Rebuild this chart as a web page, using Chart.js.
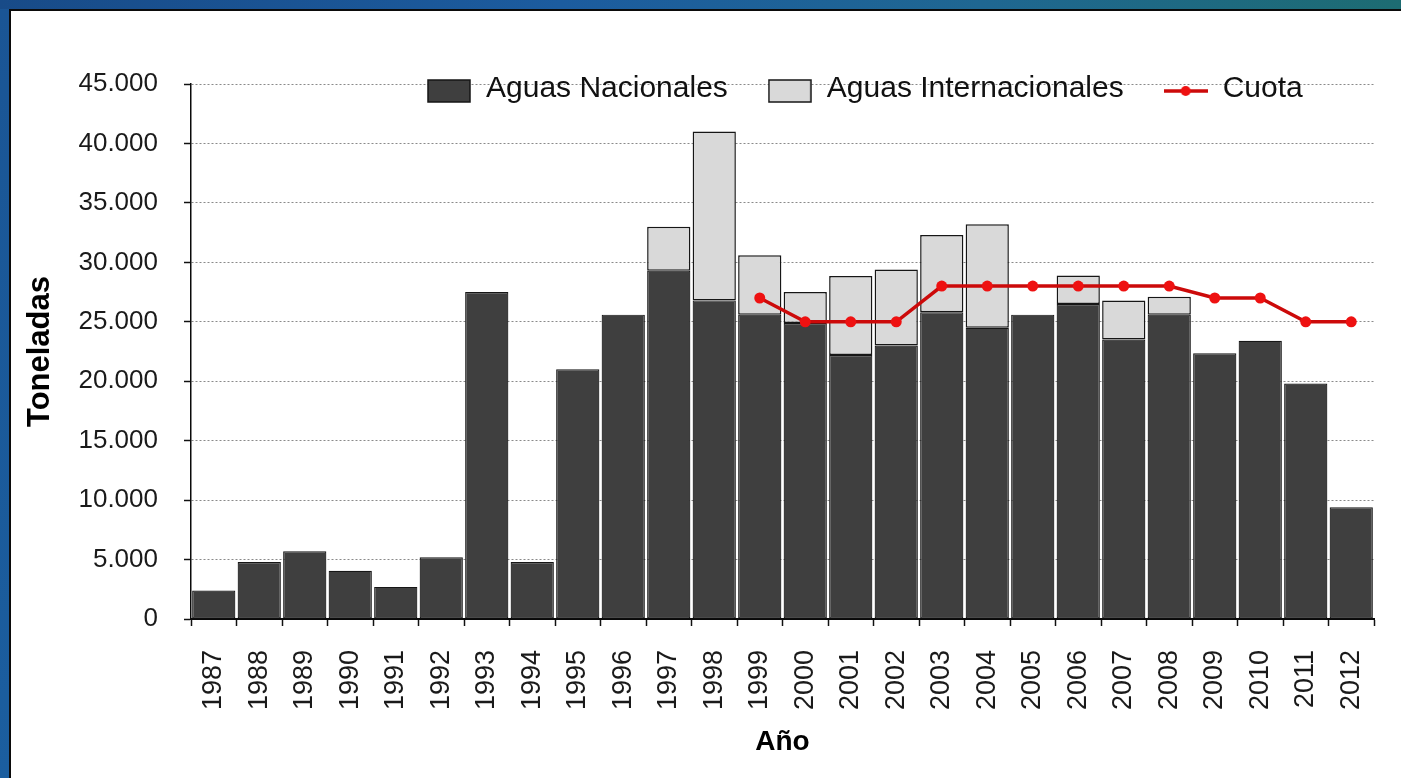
<!DOCTYPE html>
<html>
<head>
<meta charset="utf-8">
<script src="https://cdn.jsdelivr.net/npm/chart.js@4"></script>
<style>
  html, body { margin: 0; padding: 0; width: 1401px; height: 778px; overflow: hidden; }
  body {
    position: relative;
    background: linear-gradient(90deg, #184b88 0%, #1c5c9f 40%, #1f6792 70%, #1d6c72 100%);
  }
  #leftStrip {
    position: absolute; left: 0; top: 9px; width: 9px; bottom: 0;
    background: linear-gradient(180deg, #1a5595 0%, #1b5e9f 100%);
  }
  #panel {
    position: absolute; left: 9px; top: 9px; right: 0; bottom: 0;
    background: #ffffff;
    border-left: 2px solid #0b0b0b;
    border-top: 2px solid #0b0b0b;
  }
  canvas { position: absolute; left: 0; top: 0; }
</style>
</head>
<body>
<div id="leftStrip"></div>
<div id="panel"></div>
<canvas id="chart" width="1401" height="778"></canvas>
<script>
// Years on the horizontal axis
const years = ['1987','1988','1989','1990','1991','1992','1993','1994','1995','1996',
               '1997','1998','1999','2000','2001','2002','2003','2004','2005','2006',
               '2007','2008','2009','2010','2011','2012'];

// Catch in national waters (tonnes)
const aguasNacionales = [2400, 4800, 5700, 4050, 2700, 5200, 27500, 4800, 21000, 25600,
                         29300, 26800, 25600, 24900, 22200, 23000, 25800, 24500, 25600, 26500,
                         23500, 25600, 22350, 23400, 19800, 9400];

// Catch in international waters (tonnes), stacked on top
const aguasInternacionales = [0, 0, 0, 0, 0, 0, 0, 0, 0, 0,
                              3700, 14200, 5000, 2600, 6650, 6400, 6500, 8700, 0, 2400,
                              3300, 1500, 0, 0, 0, 0];

// Annual quota (tonnes)
const cuota = [null, null, null, null, null, null, null, null, null, null,
               null, null, 27000, 25000, 25000, 25000, 28000, 28000, 28000, 28000,
               28000, 28000, 27000, 27000, 25000, 25000];

// Vertical axis tick labels
const yTickLabels = ['0', '5.000', '10.000', '15.000', '20.000', '25.000',
                     '30.000', '35.000', '40.000', '45.000'];

const seriesNames = ['Aguas Nacionales', 'Aguas Internacionales', 'Cuota'];

const DARK = '#3f3f3f';
const LIGHT = '#d9d9d9';
const EDGE = '#161616';
const RED_LINE = '#cc0a0a';
const RED_DOT = '#ee1111';

Chart.defaults.font.family = '"Liberation Sans", Arial, sans-serif';
Chart.defaults.color = '#1a1a1a';

// Legend symbols: filled boxes for the bars, a line with a dot for the quota
function boxSymbol(fill) {
  const c = document.createElement('canvas');
  c.width = 44; c.height = 36;
  const g = c.getContext('2d');
  g.fillStyle = fill;
  g.fillRect(1, 9, 42, 22);
  g.strokeStyle = EDGE;
  g.lineWidth = 1.5;
  g.strokeRect(1, 9, 42, 22);
  return c;
}
function lineSymbol() {
  const c = document.createElement('canvas');
  c.width = 44; c.height = 36;
  const g = c.getContext('2d');
  g.strokeStyle = RED_LINE;
  g.lineWidth = 3.5;
  g.beginPath(); g.moveTo(0, 20); g.lineTo(44, 20); g.stroke();
  g.fillStyle = RED_DOT;
  g.beginPath(); g.arc(22, 20, 5, 0, Math.PI * 2); g.fill();
  return c;
}
const legendSymbols = [boxSymbol(DARK), boxSymbol(LIGHT), lineSymbol()];

// Places the legend row inside the plot, along its top edge
const legendInPlot = {
  id: 'legendInPlot',
  afterLayout(chart) {
    const lg = chart.legend;
    if (!lg) return;
    lg.left = 387; lg.right = 1401;
    lg.top = 34; lg.bottom = 134;
    lg.width = lg.right - lg.left;
    lg.height = lg.bottom - lg.top;
  }
};

new Chart(document.getElementById('chart'), {
  type: 'bar',
  data: {
    labels: years,
    datasets: [
      {
        label: seriesNames[0],
        data: aguasNacionales,
        backgroundColor: DARK,
        borderColor: EDGE,
        borderWidth: 1.2,
        borderSkipped: false,
        barPercentage: 0.95,
        categoryPercentage: 1.0,
        stack: 'capturas',
        order: 2
      },
      {
        label: seriesNames[1],
        data: aguasInternacionales,
        backgroundColor: LIGHT,
        borderColor: EDGE,
        borderWidth: 1.5,
        borderSkipped: false,
        barPercentage: 0.95,
        categoryPercentage: 1.0,
        stack: 'capturas',
        order: 2
      },
      {
        type: 'line',
        label: seriesNames[2],
        data: cuota,
        borderColor: RED_LINE,
        backgroundColor: RED_DOT,
        borderWidth: 3.5,
        pointRadius: 5.5,
        pointBackgroundColor: RED_DOT,
        pointBorderColor: RED_DOT,
        pointBorderWidth: 0,
        fill: false,
        tension: 0,
        spanGaps: false,
        stack: 'cuota',
        order: 0
      }
    ]
  },
  options: {
    responsive: false,
    devicePixelRatio: 1,
    animation: false,
    layout: { padding: { left: 20, right: 27, top: 83, bottom: 10 } },
    plugins: {
      tooltip: { enabled: false },
      legend: {
        position: 'top',
        align: 'start',
        maxHeight: 1,
        labels: {
          usePointStyle: true,
          pointStyleWidth: 44,
          boxHeight: 22,
          padding: 40,
          color: '#111',
          font: { size: 30 },
          generateLabels(chart) {
            const items = Chart.defaults.plugins.legend.labels.generateLabels(chart);
            items.sort((a, b) => a.datasetIndex - b.datasetIndex);
            items.forEach(it => { it.pointStyle = legendSymbols[it.datasetIndex]; });
            return items;
          }
        }
      }
    },
    scales: {
      x: {
        stacked: true,
        offset: true,
        afterFit(scale) {
          scale.height = 149;
          scale.paddingLeft = 0;
          scale.paddingRight = 0;
        },
        grid: {
          display: true,
          drawOnChartArea: false,
          offset: true,
          tickLength: 7,
          tickColor: '#111',
          tickWidth: 1.5
        },
        border: { display: true, color: '#0a0a0a', width: 2 },
        ticks: {
          autoSkip: false,
          minRotation: 90,
          maxRotation: 90,
          padding: 24,
          color: '#1a1a1a',
          font: { size: 27 }
        },
        title: {
          display: true,
          text: 'Año',
          color: '#000',
          font: { size: 28, weight: 'bold' },
          padding: { top: 0, bottom: 9 }
        }
      },
      y: {
        stacked: true,
        min: 0,
        max: 45000,
        afterFit(scale) { scale.width = 171; },
        ticks: {
          stepSize: 5000,
          padding: 26,
          color: '#1a1a1a',
          font: { size: 26 },
          callback: (value, index) => yTickLabels[index]
        },
        grid: {
          color: '#8a8a8a',
          lineWidth: 1,
          tickLength: 7,
          tickColor: '#111',
          tickWidth: 1.5,
          tickBorderDash: []
        },
        border: { display: true, color: '#0a0a0a', width: 1.5, dash: [2, 2] },
        title: {
          display: true,
          text: 'Toneladas',
          color: '#000',
          font: { size: 31, weight: 'bold' },
          padding: { top: 2, bottom: 0 }
        }
      }
    }
  },
  plugins: [legendInPlot]
});
</script>
</body>
</html>
